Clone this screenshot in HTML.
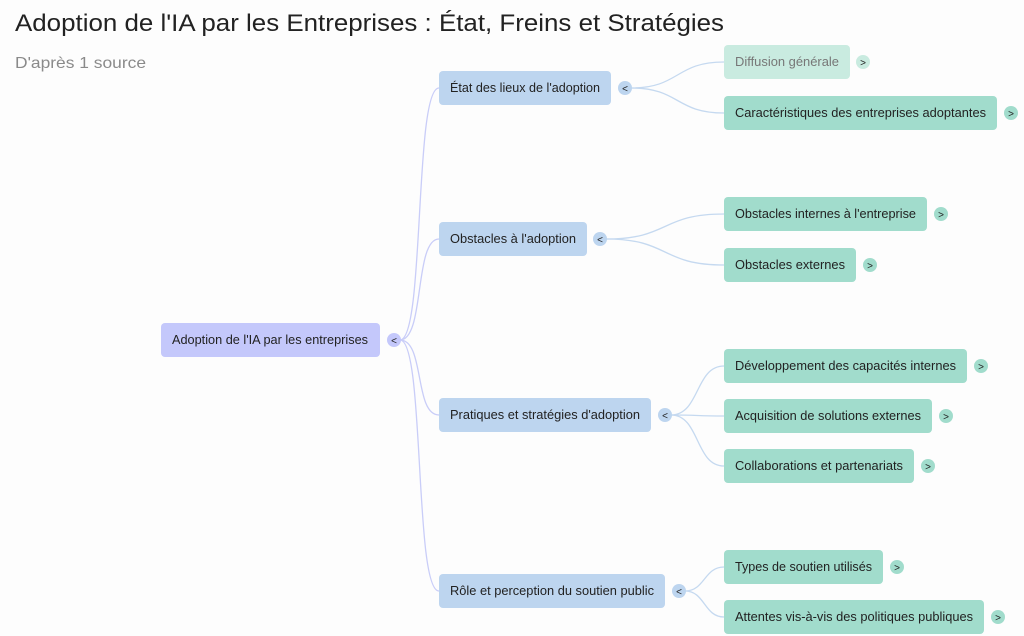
<!DOCTYPE html>
<html><head><meta charset="utf-8"><style>
html,body{margin:0;padding:0;background:#fff;}
svg{display:block;font-family:"Liberation Sans",sans-serif;}
</style></head><body>
<svg width="1024" height="636" viewBox="0 0 1024 636" xmlns="http://www.w3.org/2000/svg">
<rect width="1024" height="636" fill="#fdfdfd"/>
<text x="15" y="31" font-size="24" fill="#222" textLength="709" lengthAdjust="spacingAndGlyphs">Adoption de l'IA par les Entreprises : État, Freins et Stratégies</text>
<text x="15" y="68" font-size="16" fill="#8a8a8a" textLength="131" lengthAdjust="spacingAndGlyphs">D'après 1 source</text>

<g fill="none" stroke="#c9cdf8" stroke-width="1.3">
<path d="M400 340 C425 340 414 88 439 88"/>
<path d="M400 340 C425 340 414 239 439 239"/>
<path d="M400 340 C425 340 414 415 439 415"/>
<path d="M400 340 C425 340 414 591 439 591"/>
</g>
<g fill="none" stroke="#c5d9f0" stroke-width="1.3">
<path d="M631 88 C680 88 675 62 724 62"/>
<path d="M631 88 C680 88 675 113 724 113"/>
<path d="M606 239 C670 239 660 214 724 214"/>
<path d="M606 239 C670 239 660 265 724 265"/>
<path d="M671 415 C700 415 695 366 724 366"/>
<path d="M671 415 C700 415 695 416 724 416"/>
<path d="M671 415 C700 415 695 466 724 466"/>
<path d="M685 591 C705 591 704 567 724 567"/>
<path d="M685 591 C705 591 704 617 724 617"/>
</g>

<g font-size="13" fill="#222">
<rect x="161" y="323" width="219" height="34" rx="4" fill="#c4c8fb"/>
<text x="172" y="344" textLength="196" lengthAdjust="spacingAndGlyphs">Adoption de l'IA par les entreprises</text>
<circle cx="394" cy="340" r="7" fill="#c4c8fb"/><text x="394" y="344" font-size="10" text-anchor="middle">&lt;</text>

<rect x="439" y="71" width="172" height="34" rx="4" fill="#bdd5ef"/>
<text x="450" y="92" textLength="150" lengthAdjust="spacingAndGlyphs">État des lieux de l'adoption</text>
<circle cx="625" cy="88" r="7" fill="#bdd5ef"/><text x="625" y="92" font-size="10" text-anchor="middle">&lt;</text>

<rect x="439" y="222" width="148" height="34" rx="4" fill="#bdd5ef"/>
<text x="450" y="243" textLength="126" lengthAdjust="spacingAndGlyphs">Obstacles à l'adoption</text>
<circle cx="600" cy="239" r="7" fill="#bdd5ef"/><text x="600" y="243" font-size="10" text-anchor="middle">&lt;</text>

<rect x="439" y="398" width="212" height="34" rx="4" fill="#bdd5ef"/>
<text x="450" y="419" textLength="190" lengthAdjust="spacingAndGlyphs">Pratiques et stratégies d'adoption</text>
<circle cx="665" cy="415" r="7" fill="#bdd5ef"/><text x="665" y="419" font-size="10" text-anchor="middle">&lt;</text>

<rect x="439" y="574" width="226" height="34" rx="4" fill="#bdd5ef"/>
<text x="450" y="595" textLength="204" lengthAdjust="spacingAndGlyphs">Rôle et perception du soutien public</text>
<circle cx="679" cy="591" r="7" fill="#bdd5ef"/><text x="679" y="595" font-size="10" text-anchor="middle">&lt;</text>

<rect x="724" y="45" width="126" height="34" rx="4" fill="#c9ebe0"/>
<text x="735" y="66" fill="#777" textLength="104" lengthAdjust="spacingAndGlyphs">Diffusion générale</text>
<circle cx="863" cy="62" r="7" fill="#c9ebe0"/><text x="863" y="66" font-size="10" text-anchor="middle">&gt;</text>

<rect x="724" y="96" width="273" height="34" rx="4" fill="#a1dccc"/>
<text x="735" y="117" textLength="251" lengthAdjust="spacingAndGlyphs">Caractéristiques des entreprises adoptantes</text>
<circle cx="1011" cy="113" r="7" fill="#a1dccc"/><text x="1011" y="117" font-size="10" text-anchor="middle">&gt;</text>

<rect x="724" y="197" width="203" height="34" rx="4" fill="#a1dccc"/>
<text x="735" y="218" textLength="181" lengthAdjust="spacingAndGlyphs">Obstacles internes à l'entreprise</text>
<circle cx="941" cy="214" r="7" fill="#a1dccc"/><text x="941" y="218" font-size="10" text-anchor="middle">&gt;</text>

<rect x="724" y="248" width="132" height="34" rx="4" fill="#a1dccc"/>
<text x="735" y="269" textLength="110" lengthAdjust="spacingAndGlyphs">Obstacles externes</text>
<circle cx="870" cy="265" r="7" fill="#a1dccc"/><text x="870" y="269" font-size="10" text-anchor="middle">&gt;</text>

<rect x="724" y="349" width="243" height="34" rx="4" fill="#a1dccc"/>
<text x="735" y="370" textLength="221" lengthAdjust="spacingAndGlyphs">Développement des capacités internes</text>
<circle cx="981" cy="366" r="7" fill="#a1dccc"/><text x="981" y="370" font-size="10" text-anchor="middle">&gt;</text>

<rect x="724" y="399" width="208" height="34" rx="4" fill="#a1dccc"/>
<text x="735" y="420" textLength="186" lengthAdjust="spacingAndGlyphs">Acquisition de solutions externes</text>
<circle cx="946" cy="416" r="7" fill="#a1dccc"/><text x="946" y="420" font-size="10" text-anchor="middle">&gt;</text>

<rect x="724" y="449" width="190" height="34" rx="4" fill="#a1dccc"/>
<text x="735" y="470" textLength="168" lengthAdjust="spacingAndGlyphs">Collaborations et partenariats</text>
<circle cx="928" cy="466" r="7" fill="#a1dccc"/><text x="928" y="470" font-size="10" text-anchor="middle">&gt;</text>

<rect x="724" y="550" width="159" height="34" rx="4" fill="#a1dccc"/>
<text x="735" y="571" textLength="137" lengthAdjust="spacingAndGlyphs">Types de soutien utilisés</text>
<circle cx="897" cy="567" r="7" fill="#a1dccc"/><text x="897" y="571" font-size="10" text-anchor="middle">&gt;</text>

<rect x="724" y="600" width="260" height="34" rx="4" fill="#a1dccc"/>
<text x="735" y="621" textLength="238" lengthAdjust="spacingAndGlyphs">Attentes vis-à-vis des politiques publiques</text>
<circle cx="998" cy="617" r="7" fill="#a1dccc"/><text x="998" y="621" font-size="10" text-anchor="middle">&gt;</text>
</g>
</svg>
</body></html>
